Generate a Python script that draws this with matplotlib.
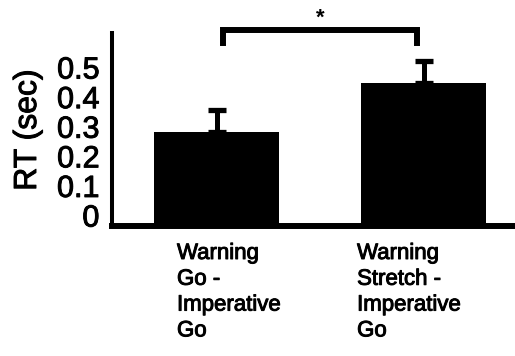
import numpy as np
import matplotlib
matplotlib.use("Agg")
import matplotlib.pyplot as plt
import matplotlib.transforms as mtransforms
import matplotlib.patheffects as pe

plt.rcParams['font.family'] = ['Liberation Sans', 'DejaVu Sans']

# dati
conditions = ["Warning\nGo -\nImperative\nGo", "Warning\nStretch -\nImperative\nGo"]
rt_mean = [0.28, 0.445]
rt_err = [0.075, 0.075]
yticks = [0, 0.1, 0.2, 0.3, 0.4, 0.5]
ytick_labels = ["0", "0.1", "0.2", "0.3", "0.4", "0.5"]

ymin, ymax = -0.037, 0.615
x = np.arange(len(rt_mean))

# testo un po' piu' spesso, come nella scansione
thick = [pe.withStroke(linewidth=0.7, foreground='black')]

fig = plt.figure(figsize=(5.15, 3.56), dpi=100)
ax = fig.add_axes([112/515, 130/356, 1 - 112/515, 193/356])

# barre nere che partono dall'asse
heights = [v - ymin for v in rt_mean]
ax.bar(x, heights, bottom=ymin, width=0.6, color='black')
ax.errorbar(x, rt_mean, yerr=[[0]*len(rt_err), rt_err], fmt='none',
            ecolor='black', elinewidth=3.6, capsize=6.5, capthick=3.8)

ax.set_xlim(-0.505, 1.442)
ax.set_ylim(ymin, ymax)

ax.spines['top'].set_visible(False)
ax.spines['right'].set_visible(False)
ax.spines['left'].set_linewidth(2.9)
ax.spines['bottom'].set_linewidth(4.3)

ax.set_yticks(yticks)
ax.set_yticklabels(ytick_labels, fontsize=22)
for t in ax.get_yticklabels():
    t.set_path_effects(thick)
ax.tick_params(axis='y', length=0, pad=9)
ax.set_xticks([])

fig.text(28/515, 1 - 130/356, "RT (sec)", rotation=90, ha='center', va='center',
         fontsize=23, path_effects=thick)

# etichette sotto le barre
trans = mtransforms.blended_transform_factory(ax.transData, ax.transAxes)
label_x = [-0.191, 0.679]
for lx, lab in zip(label_x, conditions):
    ax.text(lx, -0.088, lab, transform=trans, ha='left', va='top',
            fontsize=16, linespacing=1.3, path_effects=thick)

# parentesi di significativita'
bx0, bx1, by, bleg = 0.03, 0.97, 0.625, 0.581
ax.plot([bx0, bx0, bx1, bx1], [bleg, by, by, bleg], color='black', lw=4.3,
        solid_joinstyle='miter', clip_on=False)
ax.text(0.5, 0.665, "*", ha='center', va='center', fontsize=16, fontweight='bold')

fig.savefig("out.png", dpi=100)
